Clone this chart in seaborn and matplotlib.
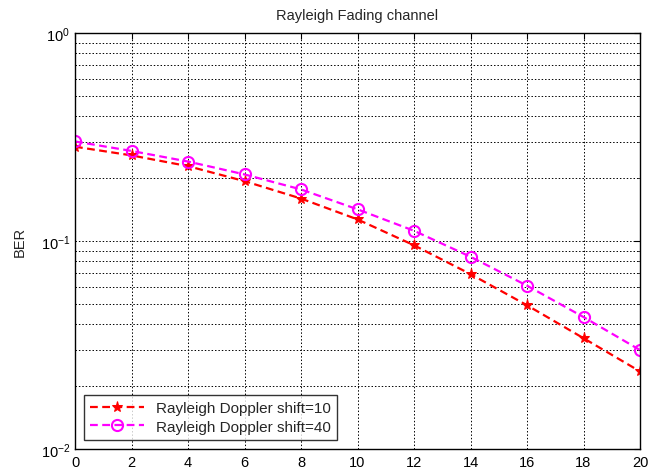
import numpy as np
import pandas as pd
import seaborn as sns
import matplotlib
matplotlib.use("Agg")
import matplotlib.pyplot as plt
from matplotlib.ticker import LogLocator, NullFormatter

snr = [0, 2, 4, 6, 8, 10, 12, 14, 16, 18, 20]
ber_d10 = [0.284, 0.258, 0.229, 0.194, 0.160, 0.127, 0.0954, 0.0693, 0.0491, 0.0341, 0.0236]
ber_d40 = [0.301, 0.271, 0.241, 0.209, 0.177, 0.142, 0.112, 0.0840, 0.0610, 0.0431, 0.0299]
labels = ["Rayleigh Doppler shift=10", "Rayleigh Doppler shift=40"]

df = pd.DataFrame({
    "SNR": snr * 2,
    "BER": ber_d10 + ber_d40,
    "series": [labels[0]] * len(snr) + [labels[1]] * len(snr),
})

sns.set_style("white")
plt.rcParams['font.family'] = ['Liberation Sans', 'DejaVu Sans']

fig = plt.figure(figsize=(6.5, 4.77), dpi=100)
ax = fig.add_axes([75/650, 27/477, 565/650, 416/477])

sns.lineplot(data=df, x="SNR", y="BER", hue="series", style="series",
             palette={labels[0]: "red", labels[1]: "magenta"},
             dashes={labels[0]: (3.5, 2), labels[1]: (3.5, 2)},
             markers={labels[0]: "*", labels[1]: "o"},
             ax=ax, legend=False, linewidth=1.6)

lines = ax.get_lines()
lines[0].set_markersize(8)
lines[0].set_markerfacecolor("red")
lines[0].set_markeredgecolor("red")
lines[1].set_markersize(8)
lines[1].set_markerfacecolor("none")
lines[1].set_markeredgecolor("magenta")
lines[1].set_markeredgewidth(1.5)

ax.set_yscale("log")
ax.set_ylim(1e-2, 1e0)
ax.set_xlim(0, 20)
ax.set_xticks(range(0, 21, 2))
ax.yaxis.set_major_locator(LogLocator(base=10, numticks=10))
ax.yaxis.set_minor_locator(LogLocator(base=10, subs=np.arange(2, 10), numticks=20))
ax.yaxis.set_minor_formatter(NullFormatter())

ax.grid(True, which="major", axis="both", color="black", linestyle=(0, (1.5, 2)), linewidth=0.7)
ax.grid(True, which="minor", axis="y", color="black", linestyle=(0, (1.5, 2)), linewidth=0.7)

for s in ax.spines.values():
    s.set_color("black")
    s.set_linewidth(1.0)

ax.tick_params(axis="both", which="major", direction="in", length=4, labelsize=10.5, colors="black", top=True, right=True)
ax.tick_params(axis="y", which="minor", direction="in", length=2, right=True)
ax.tick_params(axis="x", pad=4)

ax.set_xlabel("")
ax.set_ylabel("BER", fontsize=10.5, labelpad=10)
ax.set_title("Rayleigh Fading channel", fontsize=10.5, pad=10)

leg = ax.legend(lines, labels, loc="lower left", fontsize=11, frameon=True,
                fancybox=False, edgecolor="black", handlelength=3.5,
                borderaxespad=0.6, labelspacing=0.3)
leg.get_frame().set_linewidth(1.0)

fig.savefig("out.png", dpi=100)
